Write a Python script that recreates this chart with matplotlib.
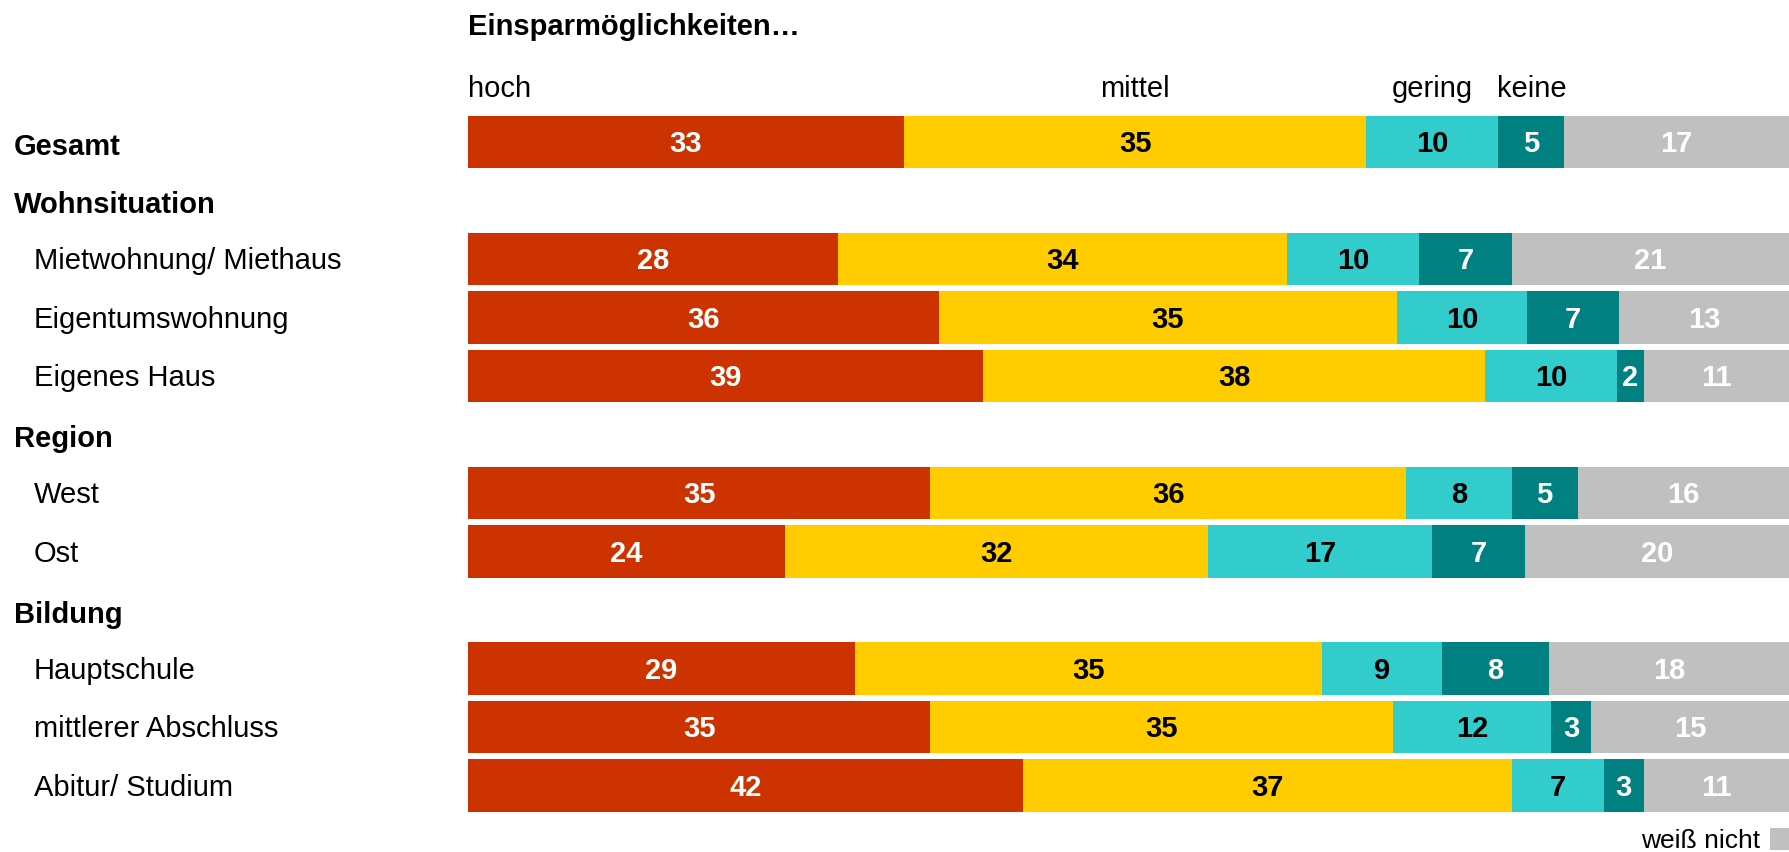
import numpy as np
import matplotlib.pyplot as plt
from matplotlib.patches import Rectangle
from matplotlib.transforms import blended_transform_factory

plt.rcParams['font.family'] = ['Liberation Sans', 'DejaVu Sans']

# data
categories = ["hoch", "mittel", "gering", "keine", "weiß nicht"]
colors = ["#CC3300", "#FFCC00", "#33CCCC", "#008080", "#C0C0C0"]
text_colors = ["white", "black", "black", "white", "white"]

groups = ["Gesamt", "Wohnsituation", "Region", "Bildung"]
members = [[],
           ["Mietwohnung/ Miethaus", "Eigentumswohnung", "Eigenes Haus"],
           ["West", "Ost"],
           ["Hauptschule", "mittlerer Abschluss", "Abitur/ Studium"]]

hoch = [33, 28, 36, 39, 35, 24, 29, 35, 42]
mittel = [35, 34, 35, 38, 36, 32, 35, 35, 37]
gering = [10, 10, 10, 10, 8, 17, 9, 12, 7]
keine = [5, 7, 7, 2, 5, 7, 8, 3, 3]
weiss_nicht = [17, 21, 13, 11, 16, 20, 18, 15, 11]

vals = np.array([hoch, mittel, gering, keine, weiss_nicht], dtype=float).T

# layout in pixels
W, H = 1789, 852
x0 = 468
y_first = 142
step = 58.5
fs = 21

fig = plt.figure(figsize=(W / 100, H / 100), dpi=100)
ax = fig.add_axes([x0 / W, 0, 1 - x0 / W, 1])
ax.set_xlim(0, 100)
ax.set_ylim((H - y_first) / step, -y_first / step)
ax.axis("off")

lab_tr = blended_transform_factory(fig.transFigure, ax.transData)

# work out row slots: group header, then members (Gesamt carries its own bar)
bar_slots = []
slot = 0
for g, mem in zip(groups, members):
    ax.text(14 / W, slot + 0.08, g, transform=lab_tr, ha="left", va="center",
            fontsize=fs, fontweight="bold")
    if not mem:
        bar_slots.append(slot)
    slot += 1
    for m in mem:
        ax.text(34 / W, slot + 0.04, m, transform=lab_tr, ha="left",
                va="center", fontsize=fs)
        bar_slots.append(slot)
        slot += 1

for row, y in zip(vals, bar_slots):
    share = row / row.sum() * 100
    left = 0
    for k, (v, w) in enumerate(zip(row, share)):
        ax.barh(y, w, left=left, height=0.89, color=colors[k], linewidth=0)
        ax.text(left + w / 2, y + 0.04, "%d" % v, ha="center", va="center",
                fontsize=fs, fontweight="bold", color=text_colors[k])
        left += w

# header
ax.text(0, (35 - y_first) / step, "Einsparmöglichkeiten…", ha="left",
        va="baseline", fontsize=fs, fontweight="bold")
g_share = vals[0] / vals[0].sum() * 100
g_left = np.concatenate([[0], np.cumsum(g_share)[:-1]])
y_cat = (97 - y_first) / step
ax.text(0, y_cat, categories[0], ha="left", va="baseline", fontsize=fs)
for k in range(1, 4):
    ax.text(g_left[k] + g_share[k] / 2, y_cat, categories[k], ha="center",
            va="baseline", fontsize=fs)

# legend for "weiß nicht"
fig.text(1760 / W, 1 - 841 / H, categories[4], ha="right", va="center",
         fontsize=19)
fig.patches.append(Rectangle((1770 / W, 1 - 850 / H), 19 / W, 22 / H,
                             transform=fig.transFigure, color=colors[4],
                             linewidth=0))

fig.savefig("out.png", dpi=100)
